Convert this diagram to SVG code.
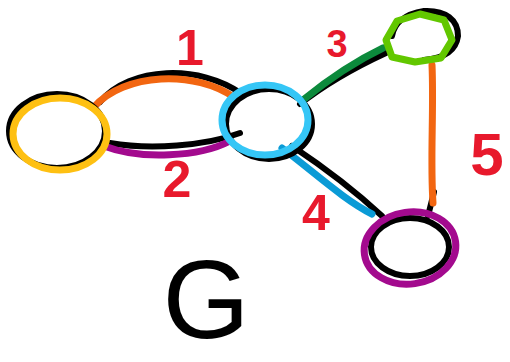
<svg xmlns="http://www.w3.org/2000/svg" width="510" height="362" viewBox="0 0 510 362">
  <style>
    .ink { fill: none; stroke-linecap: round; stroke-linejoin: round; stroke-width: 7; }
    .shadow { stroke: #000; stroke-width: 6; }
    .label { font-family: "Liberation Sans", Arial, sans-serif; font-weight: bold; fill: #e8192c; text-anchor: middle; }
    .title { font-family: "Liberation Sans", Arial, sans-serif; fill: #000; text-anchor: middle; }
  </style>
  <rect width="510" height="362" fill="#fff"/>

  <!-- edges: black pencil stroke under a coloured marker stroke -->
  <g id="connectors">
    <g id="edge-1">
      <path class="ink shadow" d="M100,102 C130,66 200,64 242,94"/>
      <path class="ink" stroke="#f26611" d="M93,108 C124,72 196,70 235,98"/>
    </g>
    <g id="edge-2">
      <path class="ink shadow" d="M110,143 C150,150 205,146 240,133"/>
      <path class="ink" stroke="#a30a8e" d="M104,146 C140,160 200,157 230,141"/>
    </g>
    <g id="edge-3">
      <path class="ink shadow" d="M300,104 C328,82 360,65 386,53"/>
      <path class="ink" stroke="#0c8a3c" d="M303,100 C330,78 358,60 383,48"/>
    </g>
    <g id="edge-4">
      <path class="ink shadow" d="M292,146 C322,166 352,188 382,216"/>
      <path class="ink" stroke="#0b9bd6" d="M282,148 C314,172 344,200 372,214"/>
    </g>
    <g id="edge-5">
      <path class="ink shadow" d="M434,192 L428,216"/>
      <path class="ink" stroke="#f26611" d="M432,65 C434,110 430,160 433,203"/>
    </g>
  </g>

  <!-- vertices -->
  <g id="node-a">
    <ellipse class="ink shadow" cx="57" cy="131" rx="48" ry="37"/>
    <ellipse class="ink" stroke="#fec012" cx="60" cy="134" rx="47" ry="36"/>
  </g>
  <g id="node-b">
    <ellipse class="ink shadow" cx="269" cy="124" rx="43" ry="35"/>
    <ellipse class="ink" stroke="#35c6f6" cx="265" cy="120" rx="43" ry="35"/>
  </g>
  <g id="node-c">
    <path class="ink shadow" d="M392,36 C394,24 404,14 424,11 C446,10 458,20 458,36 C456,50 446,58 424,60"/>
    <path class="ink" stroke="#62c700" d="M386,40 L397,21 L420,14 L444,20 L452,40 L441,58 L415,62 L392,57 Z"/>
  </g>
  <g id="node-d">
    <ellipse class="ink shadow" cx="410" cy="247" rx="39" ry="29"/>
    <ellipse class="ink" stroke="#a30a8e" cx="410" cy="248" rx="46" ry="36" transform="rotate(-8 410 248)"/>
  </g>

  <!-- edge weights and graph name -->
  <g id="labels">
    <text class="label" x="190" y="65" font-size="50">1</text>
    <text class="label" x="177" y="197" font-size="52">2</text>
    <text class="label" x="337" y="57" font-size="38">3</text>
    <text class="label" x="316" y="230" font-size="50">4</text>
    <text class="label" x="487" y="175" font-size="60">5</text>
    <text class="title" x="206" y="338" font-size="112">G</text>
  </g>
</svg>
